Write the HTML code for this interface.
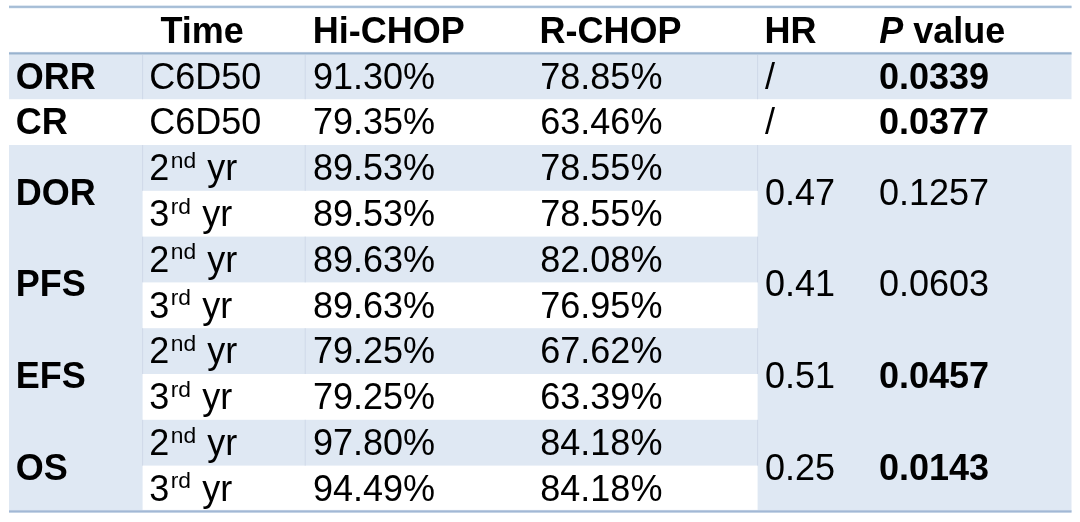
<!DOCTYPE html>
<html><head><meta charset="utf-8"><title>Table</title>
<style>
html,body{margin:0;padding:0;background:#fff;}
body{width:1080px;height:522px;overflow:hidden;}
svg{display:block;filter:blur(0.4px);}
text{font-family:"Liberation Sans",Arial,sans-serif;font-size:36px;fill:#000;}
</style></head><body>
<svg width="1080" height="522" viewBox="0 0 1080 522" xmlns="http://www.w3.org/2000/svg">
<rect x="9" y="53.4" width="1062.5" height="45.8" fill="#dfe8f3"/>
<rect x="9" y="145.0" width="133.6" height="366.4" fill="#dfe8f3"/>
<rect x="757.6" y="145.0" width="313.9" height="366.4" fill="#dfe8f3"/>
<rect x="142.6" y="145.0" width="615.0" height="45.8" fill="#dfe8f3"/>
<rect x="142.6" y="236.6" width="615.0" height="45.8" fill="#dfe8f3"/>
<rect x="142.6" y="328.2" width="615.0" height="45.8" fill="#dfe8f3"/>
<rect x="142.6" y="419.8" width="615.0" height="45.8" fill="#dfe8f3"/>
<rect x="142.1" y="53.4" width="1" height="45.8" fill="#cfd9e8"/>
<rect x="304.7" y="53.4" width="1" height="45.8" fill="#cfd9e8"/>
<rect x="757.1" y="53.4" width="1" height="45.8" fill="#cfd9e8"/>
<rect x="142.1" y="145.0" width="1" height="45.8" fill="#cfd9e8"/>
<rect x="304.7" y="145.0" width="1" height="45.8" fill="#cfd9e8"/>
<rect x="757.1" y="145.0" width="1" height="45.8" fill="#cfd9e8"/>
<rect x="142.1" y="236.6" width="1" height="45.8" fill="#cfd9e8"/>
<rect x="304.7" y="236.6" width="1" height="45.8" fill="#cfd9e8"/>
<rect x="757.1" y="236.6" width="1" height="45.8" fill="#cfd9e8"/>
<rect x="142.1" y="328.2" width="1" height="45.8" fill="#cfd9e8"/>
<rect x="304.7" y="328.2" width="1" height="45.8" fill="#cfd9e8"/>
<rect x="757.1" y="328.2" width="1" height="45.8" fill="#cfd9e8"/>
<rect x="142.1" y="419.8" width="1" height="45.8" fill="#cfd9e8"/>
<rect x="304.7" y="419.8" width="1" height="45.8" fill="#cfd9e8"/>
<rect x="757.1" y="419.8" width="1" height="45.8" fill="#cfd9e8"/>
<rect x="9" y="5.4" width="1062.5" height="3" fill="#d8e3ef"/>
<rect x="9" y="5.9" width="1062.5" height="2" fill="#a6bdd6"/>
<rect x="9" y="51.9" width="1062.5" height="3" fill="#d8e3ef"/>
<rect x="9" y="52.4" width="1062.5" height="2" fill="#98b2ce"/>
<rect x="9" y="509.9" width="1062.5" height="3" fill="#d8e3ef"/>
<rect x="9" y="510.4" width="1062.5" height="2" fill="#a2b8d5"/>
<text x="160.4" y="42.8" font-weight="bold">Time</text>
<text x="312.7" y="42.8" font-weight="bold">Hi-CHOP</text>
<text x="539.5" y="42.8" font-weight="bold">R-CHOP</text>
<text x="764.6" y="42.8" font-weight="bold">HR</text>
<text x="879.2" y="42.8" font-weight="bold"><tspan font-style="italic">P</tspan> value</text>
<text x="15.7" y="88.5" font-weight="bold">ORR</text>
<text x="149.2" y="88.5">C6D50</text>
<text x="313" y="88.5">91.30%</text>
<text x="540.3" y="88.5">78.85%</text>
<text x="765" y="88.5">/</text>
<text x="879" y="88.5" font-weight="bold">0.0339</text>
<text x="15.7" y="134.3" font-weight="bold">CR</text>
<text x="149.2" y="134.3">C6D50</text>
<text x="313" y="134.3">79.35%</text>
<text x="540.3" y="134.3">63.46%</text>
<text x="765" y="134.3">/</text>
<text x="879" y="134.3" font-weight="bold">0.0377</text>
<text x="15.7" y="204.7" font-weight="bold">DOR</text>
<text x="149.2" y="180.1">2<tspan font-size="22.8" dx="1.5" dy="-12.3">nd</tspan><tspan dy="12.3" dx="1.2"> yr</tspan></text>
<text x="313" y="180.1">89.53%</text>
<text x="540.3" y="180.1">78.55%</text>
<text x="149.2" y="225.9">3<tspan font-size="22.8" dx="1.5" dy="-12.3">rd</tspan><tspan dy="12.3" dx="1.2"> yr</tspan></text>
<text x="313" y="225.9">89.53%</text>
<text x="540.3" y="225.9">78.55%</text>
<text x="765" y="204.7">0.47</text>
<text x="879" y="204.7">0.1257</text>
<text x="15.7" y="296.3" font-weight="bold">PFS</text>
<text x="149.2" y="271.7">2<tspan font-size="22.8" dx="1.5" dy="-12.3">nd</tspan><tspan dy="12.3" dx="1.2"> yr</tspan></text>
<text x="313" y="271.7">89.63%</text>
<text x="540.3" y="271.7">82.08%</text>
<text x="149.2" y="317.5">3<tspan font-size="22.8" dx="1.5" dy="-12.3">rd</tspan><tspan dy="12.3" dx="1.2"> yr</tspan></text>
<text x="313" y="317.5">89.63%</text>
<text x="540.3" y="317.5">76.95%</text>
<text x="765" y="296.3">0.41</text>
<text x="879" y="296.3">0.0603</text>
<text x="15.7" y="387.9" font-weight="bold">EFS</text>
<text x="149.2" y="363.3">2<tspan font-size="22.8" dx="1.5" dy="-12.3">nd</tspan><tspan dy="12.3" dx="1.2"> yr</tspan></text>
<text x="313" y="363.3">79.25%</text>
<text x="540.3" y="363.3">67.62%</text>
<text x="149.2" y="409.1">3<tspan font-size="22.8" dx="1.5" dy="-12.3">rd</tspan><tspan dy="12.3" dx="1.2"> yr</tspan></text>
<text x="313" y="409.1">79.25%</text>
<text x="540.3" y="409.1">63.39%</text>
<text x="765" y="387.9">0.51</text>
<text x="879" y="387.9" font-weight="bold">0.0457</text>
<text x="15.7" y="479.5" font-weight="bold">OS</text>
<text x="149.2" y="454.9">2<tspan font-size="22.8" dx="1.5" dy="-12.3">nd</tspan><tspan dy="12.3" dx="1.2"> yr</tspan></text>
<text x="313" y="454.9">97.80%</text>
<text x="540.3" y="454.9">84.18%</text>
<text x="149.2" y="500.7">3<tspan font-size="22.8" dx="1.5" dy="-12.3">rd</tspan><tspan dy="12.3" dx="1.2"> yr</tspan></text>
<text x="313" y="500.7">94.49%</text>
<text x="540.3" y="500.7">84.18%</text>
<text x="765" y="479.5">0.25</text>
<text x="879" y="479.5" font-weight="bold">0.0143</text>
</svg>
</body></html>
